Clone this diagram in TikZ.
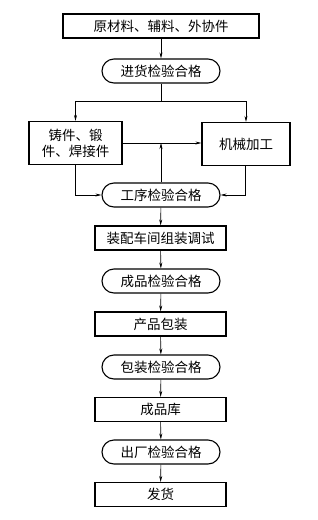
\documentclass[tikz,border=0pt]{standalone}
\usepackage{fontspec}
\setmainfont{Noto Sans CJK SC}
\usetikzlibrary{arrows.meta,shapes.misc,positioning}

\tikzset{
  procbox/.style={draw,line width=1.1pt,rectangle,inner sep=0pt,font=\fontsize{13.5}{16}\selectfont},
  checkbox/.style={draw,line width=1.1pt,rounded rectangle,minimum width=118pt,minimum height=24pt,inner sep=0pt,font=\fontsize{13.5}{16}\selectfont},
  flow/.style={-{Stealth[length=6pt,width=3pt]},line width=0.6pt},
  plain/.style={line width=0.6pt}
}

\begin{document}
\begin{tikzpicture}[x=1pt,y=-1pt]
\useasboundingbox (0,0) rectangle (317,520);

\node[procbox,minimum width=196pt,minimum height=24pt] (raw) at (161,26) {原材料、辅料、外协件};
\node[checkbox] (inchk) at (161,71) {进货检验合格};
\coordinate (split) at (161,101);
\node[procbox,minimum width=93pt,minimum height=43pt,align=center] (cast) at (75.5,143) {铸件、锻\\件、焊接件};
\node[procbox,minimum width=88pt,minimum height=43pt] (mach) at (246,144) {机械加工};
\coordinate (mid) at (161,143);
\node[checkbox] (prochk) at (161,195) {工序检验合格};
\node[procbox,minimum width=131pt,minimum height=24pt] (assy) at (160.5,238) {装配车间组装调试};
\node[checkbox] (prodchk) at (161,281) {成品检验合格};
\node[procbox,minimum width=131pt,minimum height=24pt] (pack) at (160.5,324) {产品包装};
\node[checkbox] (packchk) at (161,367) {包装检验合格};
\node[procbox,minimum width=131pt,minimum height=24pt] (store) at (160.5,409.5) {成品库};
\node[checkbox] (outchk) at (161,452) {出厂检验合格};
\node[procbox,minimum width=131pt,minimum height=24pt] (ship) at (160.5,494.5) {发货};

\draw[flow] (raw) -- (inchk);
\draw[plain] (inchk) -- (split);
\draw[flow] (split) -| (cast.north);
\draw[flow] (split) -| (mach.north);
\draw[flow] (cast.east |- mid) -- (mach.west |- mid);
\draw[flow] (prochk) -- (mid);
\draw[flow] (cast.south) |- (prochk.west);
\draw[flow] (mach.south -| 245,0) |- (prochk.east);

% main line
\draw[flow] (prochk) -- (assy);
\draw[flow] (assy) -- (prodchk);
\draw[flow] (prodchk) -- (pack);
\draw[flow] (pack) -- (packchk);
\draw[flow] (packchk) -- (store);
\draw[flow] (store) -- (outchk);
\draw[flow] (outchk) -- (ship);
\end{tikzpicture}
\end{document}
